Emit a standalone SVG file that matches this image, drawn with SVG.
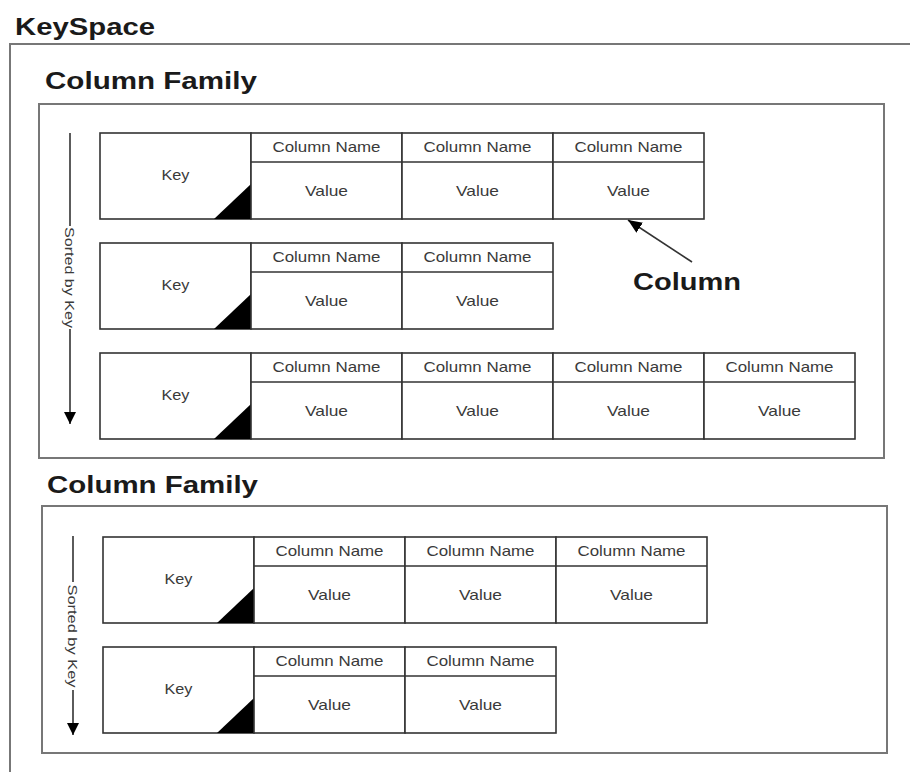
<svg xmlns="http://www.w3.org/2000/svg" width="910" height="772" viewBox="0 0 910 772">
<defs>
<style>
.cont{fill:none;stroke:#777;stroke-width:2}
.box{fill:#fff;stroke:#333;stroke-width:1.6}
.div{stroke:#333;stroke-width:1.6}
.tri{fill:#000}
.title{font-family:"Liberation Sans",Arial,sans-serif;font-weight:bold;font-size:24.5px;fill:#1a1a1a}
.t{font-family:"Liberation Sans",Arial,sans-serif;font-size:14.5px;fill:#3a3a3a;text-anchor:middle}
.s{font-family:"Liberation Sans",Arial,sans-serif;font-size:13.5px;fill:#3a3a3a;text-anchor:middle}
.con{stroke:#333;stroke-width:1.6;fill:none}
</style>
<marker id="ah" viewBox="0 0 12 16" refX="12" refY="8" markerWidth="12" markerHeight="16" markerUnits="userSpaceOnUse" orient="auto">
<path d="M0,2 L12,8 L0,14 Z" fill="#000"/>
</marker>
<marker id="ah2" viewBox="0 0 14 12" refX="14" refY="6" markerWidth="14" markerHeight="12" markerUnits="userSpaceOnUse" orient="auto">
<path d="M0,0 L14,6 L0,12 Z" fill="#000"/>
</marker>
<g id="col">
<rect class="box" x="0" y="0" width="151" height="86"/>
<line class="div" x1="0" y1="29" x2="151" y2="29"/>
<text class="t" x="75.5" y="19" textLength="108" lengthAdjust="spacingAndGlyphs">Column Name</text>
<text class="t" x="75.5" y="63" textLength="43" lengthAdjust="spacingAndGlyphs">Value</text>
</g>
<g id="key">
<rect class="box" x="0" y="0" width="151" height="86"/>
<polygon class="tri" points="114,86 151,86 151,51"/>
<text class="t" x="75.5" y="47" textLength="28" lengthAdjust="spacingAndGlyphs">Key</text>
</g>
</defs>

<g id="keyspace">
<path class="cont" d="M910,44 H10 V772"/>
<text class="title" x="15" y="35" textLength="140" lengthAdjust="spacingAndGlyphs">KeySpace</text>
</g>

<g id="cf1">
<rect class="cont" x="39" y="104" width="845" height="354"/>
<text class="title" x="45" y="89" textLength="212" lengthAdjust="spacingAndGlyphs">Column Family</text>
</g>

<g id="cf1-row1" transform="translate(100,133)">
<use href="#key"/>
<use href="#col" x="151"/>
<use href="#col" x="302"/>
<use href="#col" x="453"/>
</g>
<g id="cf1-row2" transform="translate(100,243)">
<use href="#key"/>
<use href="#col" x="151"/>
<use href="#col" x="302"/>
</g>
<g id="cf1-row3" transform="translate(100,353)">
<use href="#key"/>
<use href="#col" x="151"/>
<use href="#col" x="302"/>
<use href="#col" x="453"/>
<use href="#col" x="604"/>
</g>

<g id="column-label">
<text class="title" x="633" y="290" textLength="108" lengthAdjust="spacingAndGlyphs">Column</text>
</g>

<g id="cf2">
<rect class="cont" x="42" y="506" width="845" height="247"/>
<text class="title" x="47" y="493" textLength="211" lengthAdjust="spacingAndGlyphs">Column Family</text>
</g>

<g id="cf2-row1" transform="translate(103,537)">
<use href="#key"/>
<use href="#col" x="151"/>
<use href="#col" x="302"/>
<use href="#col" x="453"/>
</g>
<g id="cf2-row2" transform="translate(103,647)">
<use href="#key"/>
<use href="#col" x="151"/>
<use href="#col" x="302"/>
</g>

<g id="connectors">
<line class="con" x1="70" y1="133" x2="70" y2="226"/>
<line class="con" x1="70" y1="329" x2="70" y2="424" marker-end="url(#ah)"/>
<text class="s" transform="translate(65,277.5) rotate(90)" textLength="101" lengthAdjust="spacingAndGlyphs">Sorted by Key</text>
<line class="con" x1="73" y1="536" x2="73" y2="582"/>
<line class="con" x1="73" y1="690" x2="73" y2="735" marker-end="url(#ah)"/>
<text class="s" transform="translate(68,636) rotate(90)" textLength="103" lengthAdjust="spacingAndGlyphs">Sorted by Key</text>
<line class="con" x1="692" y1="262" x2="628" y2="220" marker-end="url(#ah2)"/>
</g>
</svg>
